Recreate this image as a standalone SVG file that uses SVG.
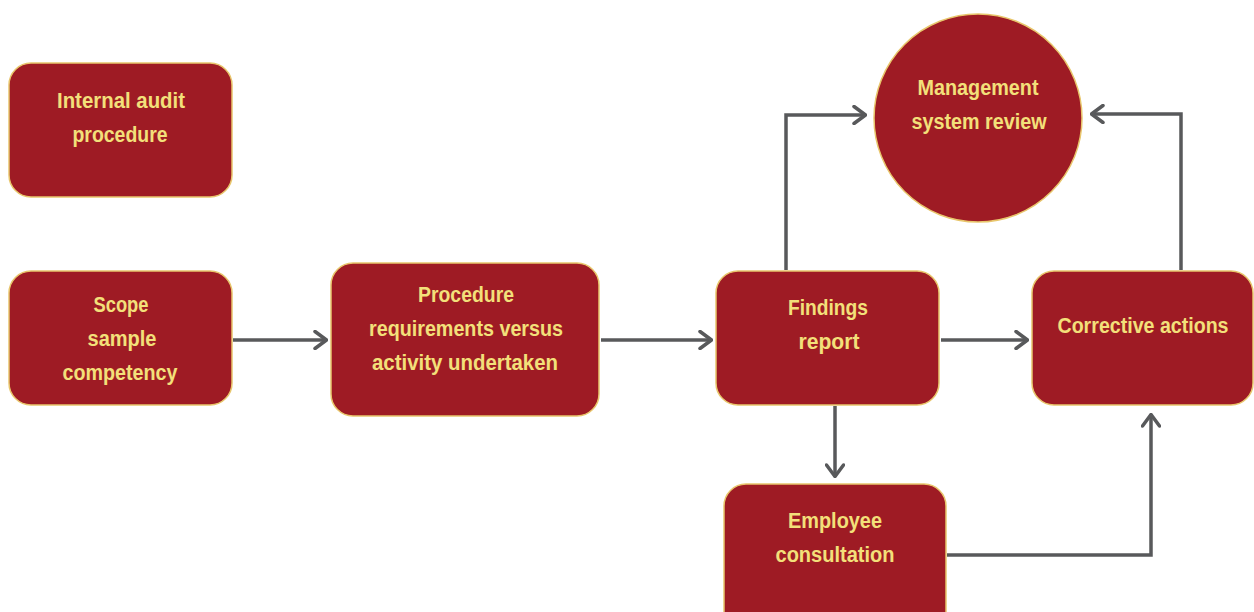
<svg xmlns="http://www.w3.org/2000/svg" width="1254" height="612" viewBox="0 0 1254 612">
<defs>
<style>
.node{fill:#9e1b24;stroke:#e8c66c;stroke-width:1.5}
.lbl{font-family:"Liberation Sans",Arial,sans-serif;font-weight:bold;font-size:22px;fill:#f3e07a;text-anchor:middle}
.conn{fill:none;stroke:#58595b;stroke-width:3.5;stroke-linejoin:miter}
</style>
<marker id="ah" viewBox="0 0 15 20" refX="14" refY="10" markerWidth="15" markerHeight="20" markerUnits="userSpaceOnUse" orient="auto">
<path d="M2,1.5 L13.5,10 L2,18.5" fill="none" stroke="#58595b" stroke-width="3.5" stroke-linecap="round" stroke-linejoin="round"/>
</marker>
</defs>
<rect width="1254" height="612" fill="#ffffff"/>
<g id="connectors">
<path class="conn" d="M233,340 H327" marker-end="url(#ah)"/>
<path class="conn" d="M601,340 H712" marker-end="url(#ah)"/>
<path class="conn" d="M941,340 H1028" marker-end="url(#ah)"/>
<path class="conn" d="M786,270 V115 H866" marker-end="url(#ah)"/>
<path class="conn" d="M1181,270 V114 H1091" marker-end="url(#ah)"/>
<path class="conn" d="M835,406 V477" marker-end="url(#ah)"/>
<path class="conn" d="M947,555 H1151 V414" marker-end="url(#ah)"/>
</g>
<g id="n-internal">
<rect class="node" x="9" y="63" width="223" height="134" rx="22"/>
<text class="lbl" x="121" y="108" textLength="128" lengthAdjust="spacingAndGlyphs">Internal audit</text>
<text class="lbl" x="120" y="142" textLength="95" lengthAdjust="spacingAndGlyphs">procedure</text>
</g>
<g id="n-scope">
<rect class="node" x="9" y="271" width="223" height="134" rx="22"/>
<text class="lbl" x="121" y="312" textLength="55" lengthAdjust="spacingAndGlyphs">Scope</text>
<text class="lbl" x="122" y="346" textLength="69" lengthAdjust="spacingAndGlyphs">sample</text>
<text class="lbl" x="120" y="380" textLength="115" lengthAdjust="spacingAndGlyphs">competency</text>
</g>
<g id="n-procedure">
<rect class="node" x="331" y="263" width="268" height="153" rx="22"/>
<text class="lbl" x="466" y="302" textLength="96" lengthAdjust="spacingAndGlyphs">Procedure</text>
<text class="lbl" x="466" y="336" textLength="194" lengthAdjust="spacingAndGlyphs">requirements versus</text>
<text class="lbl" x="465" y="370" textLength="186" lengthAdjust="spacingAndGlyphs">activity undertaken</text>
</g>
<g id="n-findings">
<rect class="node" x="716" y="271" width="223" height="134" rx="22"/>
<text class="lbl" x="828" y="315" textLength="80" lengthAdjust="spacingAndGlyphs">Findings</text>
<text class="lbl" x="829" y="349" textLength="61" lengthAdjust="spacingAndGlyphs">report</text>
</g>
<g id="n-corrective">
<rect class="node" x="1032" y="271" width="221" height="134" rx="22"/>
<text class="lbl" x="1143" y="333" textLength="171" lengthAdjust="spacingAndGlyphs">Corrective actions</text>
</g>
<g id="n-review">
<circle class="node" cx="978" cy="118" r="104"/>
<text class="lbl" x="978" y="95" textLength="121" lengthAdjust="spacingAndGlyphs">Management</text>
<text class="lbl" x="979" y="129" textLength="135" lengthAdjust="spacingAndGlyphs">system review</text>
</g>
<g id="n-employee">
<rect class="node" x="724" y="484" width="222" height="150" rx="22"/>
<text class="lbl" x="835" y="528" textLength="94" lengthAdjust="spacingAndGlyphs">Employee</text>
<text class="lbl" x="835" y="562" textLength="119" lengthAdjust="spacingAndGlyphs">consultation</text>
</g>
</svg>
